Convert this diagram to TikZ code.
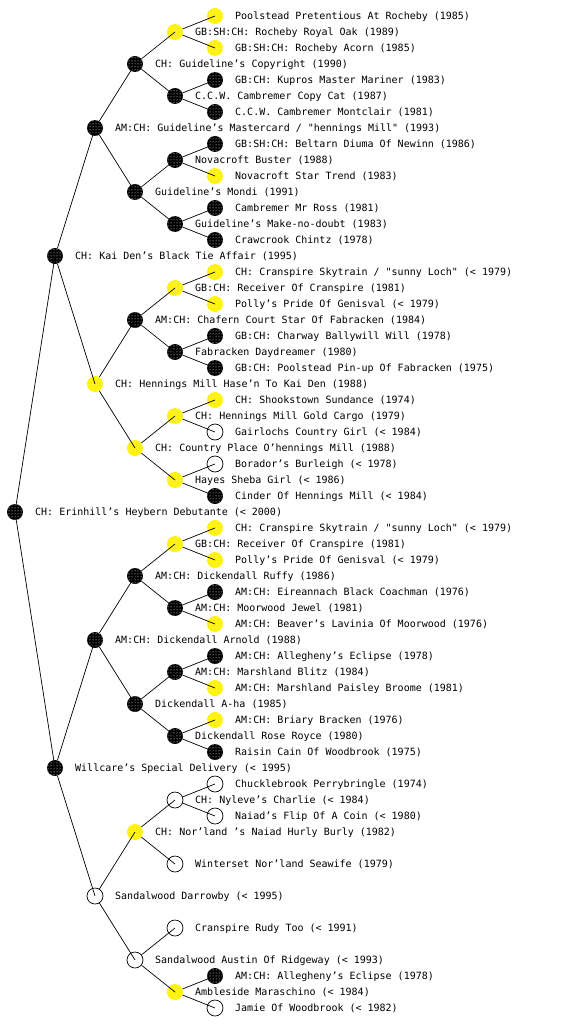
\documentclass[tikz,border=0pt]{standalone}
\usepackage{fontspec}
\newfontfamily\labfont{DejaVu Sans Mono}
\usetikzlibrary{patterns}
\tikzset{
  mk/.style={circle, inner sep=0pt, minimum size=16pt},
  bk/.style={mk, fill=black, postaction={pattern=dots, pattern color=white}},
  yl/.style={mk, fill=yellow, postaction={pattern=dots, pattern color=white}},
  wh/.style={mk, draw=black, line width=0.7pt, minimum size=16pt},
  lbl/.style={anchor=base west, inner sep=0pt, font=\labfont\fontsize{10pt}{12pt}\selectfont},
  edge/.style={line width=0.7pt, black}
}
\newcommand\pn[5]{\node[#2] (#1) at ({#3},{-16*#4}) {};
  \node[lbl] (#1t) at ({#3+20},{-16*#4-3.6}) {#5};}
\begin{document}
\begin{tikzpicture}[x=1pt,y=1pt]
\useasboundingbox (0,0) rectangle (560,-1024);
% level 0
\pn{n32}{bk}{15}{32}{CH: Erinhill’s Heybern Debutante (< 2000)}
% level 1
\pn{n16}{bk}{55}{16}{CH: Kai Den’s Black Tie Affair (1995)}
\pn{n48}{bk}{55}{48}{Willcare’s Special Delivery (< 1995)}
% level 2
\pn{n8}{bk}{95}{8}{AM:CH: Guideline’s Mastercard / "hennings Mill" (1993)}
\pn{n24}{yl}{95}{24}{CH: Hennings Mill Hase’n To Kai Den (1988)}
\pn{n40}{bk}{95}{40}{AM:CH: Dickendall Arnold (1988)}
\pn{n56}{wh}{95}{56}{Sandalwood Darrowby (< 1995)}
% level 3
\pn{n4}{bk}{135}{4}{CH: Guideline’s Copyright (1990)}
\pn{n12}{bk}{135}{12}{Guideline’s Mondi (1991)}
\pn{n20}{bk}{135}{20}{AM:CH: Chafern Court Star Of Fabracken (1984)}
\pn{n28}{yl}{135}{28}{CH: Country Place O’hennings Mill (1988)}
\pn{n36}{bk}{135}{36}{AM:CH: Dickendall Ruffy (1986)}
\pn{n44}{bk}{135}{44}{Dickendall A-ha (1985)}
\pn{n52}{yl}{135}{52}{CH: Nor’land ’s Naiad Hurly Burly (1982)}
\pn{n60}{wh}{135}{60}{Sandalwood Austin Of Ridgeway (< 1993)}
% level 4
\pn{n2}{yl}{175}{2}{GB:SH:CH: Rocheby Royal Oak (1989)}
\pn{n6}{bk}{175}{6}{C.C.W. Cambremer Copy Cat (1987)}
\pn{n10}{bk}{175}{10}{Novacroft Buster (1988)}
\pn{n14}{bk}{175}{14}{Guideline’s Make-no-doubt (1983)}
\pn{n18}{yl}{175}{18}{GB:CH: Receiver Of Cranspire (1981)}
\pn{n22}{bk}{175}{22}{Fabracken Daydreamer (1980)}
\pn{n26}{yl}{175}{26}{CH: Hennings Mill Gold Cargo (1979)}
\pn{n30}{yl}{175}{30}{Hayes Sheba Girl (< 1986)}
\pn{n34}{yl}{175}{34}{GB:CH: Receiver Of Cranspire (1981)}
\pn{n38}{bk}{175}{38}{AM:CH: Moorwood Jewel (1981)}
\pn{n42}{bk}{175}{42}{AM:CH: Marshland Blitz (1984)}
\pn{n46}{bk}{175}{46}{Dickendall Rose Royce (1980)}
\pn{n50}{wh}{175}{50}{CH: Nyleve’s Charlie (< 1984)}
\pn{n54}{wh}{175}{54}{Winterset Nor’land Seawife (1979)}
\pn{n58}{wh}{175}{58}{Cranspire Rudy Too (< 1991)}
\pn{n62}{yl}{175}{62}{Ambleside Maraschino (< 1984)}
% level 5
\pn{n1}{yl}{215}{1}{Poolstead Pretentious At Rocheby (1985)}
\pn{n3}{yl}{215}{3}{GB:SH:CH: Rocheby Acorn (1985)}
\pn{n5}{bk}{215}{5}{GB:CH: Kupros Master Mariner (1983)}
\pn{n7}{bk}{215}{7}{C.C.W. Cambremer Montclair (1981)}
\pn{n9}{bk}{215}{9}{GB:SH:CH: Beltarn Diuma Of Newinn (1986)}
\pn{n11}{yl}{215}{11}{Novacroft Star Trend (1983)}
\pn{n13}{bk}{215}{13}{Cambremer Mr Ross (1981)}
\pn{n15}{bk}{215}{15}{Crawcrook Chintz (1978)}
\pn{n17}{yl}{215}{17}{CH: Cranspire Skytrain / "sunny Loch" (< 1979)}
\pn{n19}{yl}{215}{19}{Polly’s Pride Of Genisval (< 1979)}
\pn{n21}{bk}{215}{21}{GB:CH: Charway Ballywill Will (1978)}
\pn{n23}{bk}{215}{23}{GB:CH: Poolstead Pin-up Of Fabracken (1975)}
\pn{n25}{yl}{215}{25}{CH: Shookstown Sundance (1974)}
\pn{n27}{wh}{215}{27}{Gairlochs Country Girl (< 1984)}
\pn{n29}{wh}{215}{29}{Borador’s Burleigh (< 1978)}
\pn{n31}{bk}{215}{31}{Cinder Of Hennings Mill (< 1984)}
\pn{n33}{yl}{215}{33}{CH: Cranspire Skytrain / "sunny Loch" (< 1979)}
\pn{n35}{yl}{215}{35}{Polly’s Pride Of Genisval (< 1979)}
\pn{n37}{bk}{215}{37}{AM:CH: Eireannach Black Coachman (1976)}
\pn{n39}{yl}{215}{39}{AM:CH: Beaver’s Lavinia Of Moorwood (1976)}
\pn{n41}{bk}{215}{41}{AM:CH: Allegheny’s Eclipse (1978)}
\pn{n43}{yl}{215}{43}{AM:CH: Marshland Paisley Broome (1981)}
\pn{n45}{yl}{215}{45}{AM:CH: Briary Bracken (1976)}
\pn{n47}{bk}{215}{47}{Raisin Cain Of Woodbrook (1975)}
\pn{n49}{wh}{215}{49}{Chucklebrook Perrybringle (1974)}
\pn{n51}{wh}{215}{51}{Naiad’s Flip Of A Coin (< 1980)}
\pn{n61}{bk}{215}{61}{AM:CH: Allegheny’s Eclipse (1978)}
\pn{n63}{wh}{215}{63}{Jamie Of Woodbrook (< 1982)}
% edges
\foreach \p/\c in {n32/n16,n32/n48,
  n16/n8,n16/n24,n48/n40,n48/n56,
  n8/n4,n8/n12,n24/n20,n24/n28,n40/n36,n40/n44,n56/n52,n56/n60,
  n4/n2,n4/n6,n12/n10,n12/n14,n20/n18,n20/n22,n28/n26,n28/n30,
  n36/n34,n36/n38,n44/n42,n44/n46,n52/n50,n52/n54,n60/n58,n60/n62,
  n2/n1,n2/n3,n6/n5,n6/n7,n10/n9,n10/n11,n14/n13,n14/n15,
  n18/n17,n18/n19,n22/n21,n22/n23,n26/n25,n26/n27,n30/n29,n30/n31,
  n34/n33,n34/n35,n38/n37,n38/n39,n42/n41,n42/n43,n46/n45,n46/n47,
  n50/n49,n50/n51,n62/n61,n62/n63}
  \draw[edge] (\p) -- (\c.center);
\end{tikzpicture}
\end{document}
